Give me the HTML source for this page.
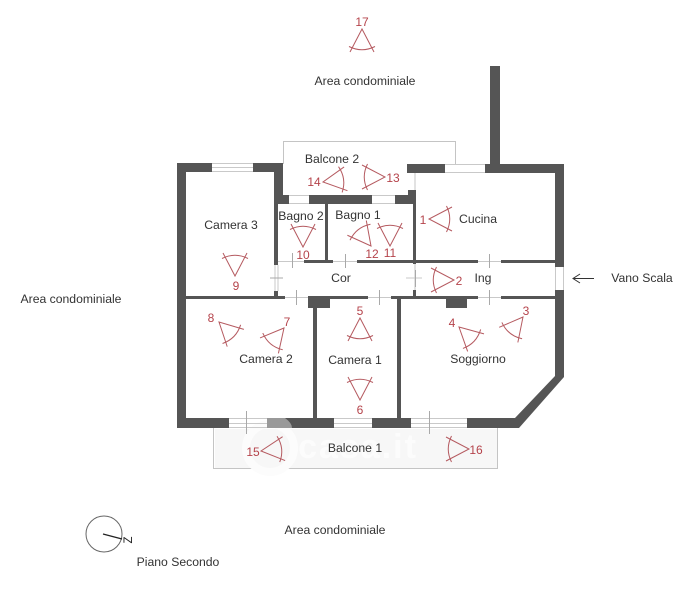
<!DOCTYPE html>
<html><head><meta charset="utf-8"><style>
html,body{margin:0;padding:0;background:#fff}
svg{display:block}
text{font-family:"Liberation Sans",sans-serif}
.l{font-size:12.2px;fill:#333;text-anchor:middle}
.n{font-size:12px;fill:#b5434b;text-anchor:middle}
</style></head><body>
<svg width="697" height="600" viewBox="0 0 697 600" xmlns="http://www.w3.org/2000/svg">
<defs>
<g id="c" fill="none" stroke="#b55a60" stroke-width="1">
<path d="M-12 23L0 0L12 23"/>
<path d="M-13 17.500Q0 24 13 17.500"/>
</g>
<linearGradient id="f" x1="0" y1="0" x2="0" y2="1">
<stop offset="0" stop-color="#f5f5f5"/><stop offset=".75" stop-color="#f7f7f7"/><stop offset="1" stop-color="#fff"/>
</linearGradient>
<linearGradient id="g" x1="0" y1="0" x2="1" y2="0">
<stop offset="0" stop-color="#f5f5f5" stop-opacity="0"/><stop offset=".12" stop-color="#f5f5f5"/><stop offset=".75" stop-color="#f5f5f5"/><stop offset="1" stop-color="#f5f5f5" stop-opacity="0"/>
</linearGradient>
</defs>
<rect width="697" height="600" fill="#fff"/>
<!-- balcony shading -->
<rect x="215" y="429" width="282" height="39" fill="#f7f7f7"/>
<!-- balcony outlines -->
<g fill="none" stroke="#c4c4c4" stroke-width="1">
<path d="M283.500 164V141.500H455.500V164"/>
<path d="M213.500 428V468.500H497.500V428"/>
<path d="M415 173V205M415 264V296"/>
</g>
<text x="358" y="458" font-size="34" font-weight="bold" fill="#fcfcfc" text-anchor="middle" style="letter-spacing:2px">casa.it</text>
<circle cx="270" cy="448" r="24" fill="none" stroke="#fcfcfc" stroke-width="8"/>
<!-- walls -->
<g fill="#555">
<rect x="177" y="163" width="9" height="265"/>
<rect x="177" y="163" width="35" height="9"/>
<rect x="253" y="163" width="30" height="9"/>
<rect x="274" y="163" width="9" height="33"/>
<rect x="278" y="195" width="11" height="9"/>
<rect x="274" y="195" width="4" height="70"/>
<rect x="309" y="195" width="63" height="9"/>
<rect x="395" y="195" width="21" height="9"/>
<rect x="408" y="190" width="8" height="14"/>
<rect x="325" y="204" width="3" height="58"/>
<rect x="413" y="204" width="3" height="60"/>
<rect x="407" y="164" width="38" height="9"/>
<rect x="485" y="164" width="79" height="9"/>
<rect x="490" y="66" width="10" height="100"/>
<rect x="555" y="164" width="9" height="103"/>
<rect x="304" y="260" width="29" height="3"/>
<rect x="357" y="260" width="121" height="3"/>
<rect x="501" y="260" width="54" height="3"/>
<rect x="186" y="296" width="99" height="3"/>
<rect x="308" y="296" width="60" height="3"/>
<rect x="391" y="296" width="87" height="3"/>
<rect x="501" y="296" width="54" height="3"/>
<rect x="274" y="291" width="4" height="6"/>
<rect x="413" y="290" width="3" height="7"/>
<rect x="308" y="297" width="22" height="11"/>
<rect x="446" y="297" width="21" height="11"/>
<rect x="313" y="297" width="4" height="122"/>
<rect x="397" y="297" width="4" height="122"/>
<path d="M555 290H564V377L519 428H467V418H515L555 376Z"/>
<rect x="177" y="418" width="52" height="10"/>
<rect x="267" y="418" width="67" height="10"/>
<rect x="372" y="418" width="39" height="10"/>
</g>
<path d="M267 418H285Q292 423 292 428H267Z" fill="#999"/>
<!-- windows and door ticks -->
<g fill="none" stroke="#c9c9c9" stroke-width="1">
<path d="M212 163.500H253M212 171.500H253M212 167.500H253"/>
<path d="M289 195.500H309M289 203.500H309"/>
<path d="M372 195.500H395M372 203.500H395"/>
<path d="M445 164.500H485M445 172.500H485"/>
<path d="M229 418.500H267M229 427.500H267M229 423.500H267"/>
<path d="M334 418.500H372M334 427.500H372M334 423.500H372"/>
<path d="M411 418.500H467M411 427.500H467M411 423.500H467"/>
<path d="M278 261.500H304M333 261.500H357M478 261.500H501"/>
<path d="M285 297.500H308M368 297.500H391M478 297.500H501"/>
<path d="M275 265V291M278 265V291"/>
<path d="M555.500 267V290M563.500 267V290"/>
<path d="M406 278H422"/>
</g>
<g stroke="#a9a9a9" stroke-width="1" fill="none">
<path d="M292.500 253V268M345.500 254V268M296.500 290V305M379.500 290V305M489.500 254V268M489.500 290V305"/>
<path d="M270 278H283M246.500 411V434M429.500 411V434M415.500 270V287"/>
</g>
<!-- cameras -->
<use href="#c" transform="translate(429,219) rotate(-90)"/>
<use href="#c" transform="translate(454,280) rotate(90)"/>
<use href="#c" transform="translate(523,317) rotate(39)"/>
<use href="#c" transform="translate(459,327) rotate(-47)"/>
<use href="#c" transform="translate(360,318)"/>
<use href="#c" transform="translate(360,400) rotate(180)"/>
<use href="#c" transform="translate(284,328) rotate(40)"/>
<use href="#c" transform="translate(219,322) rotate(-46)"/>
<use href="#c" transform="translate(235,276) rotate(180)"/>
<use href="#c" transform="translate(303,247) rotate(180)"/>
<use href="#c" transform="translate(390,246) rotate(180)"/>
<use href="#c" transform="translate(371,246) rotate(142)"/>
<use href="#c" transform="translate(385,177) rotate(90)"/>
<use href="#c" transform="translate(323,182) rotate(-98)"/>
<use href="#c" transform="translate(261,451) rotate(-96)"/>
<use href="#c" transform="translate(469,449) rotate(90)"/>
<use href="#c" transform="translate(362,29)"/>
<!-- numbers -->
<text class="n" x="362" y="26">17</text>
<text class="n" x="423" y="224">1</text>
<text class="n" x="459" y="285">2</text>
<text class="n" x="526" y="315">3</text>
<text class="n" x="452" y="327">4</text>
<text class="n" x="360" y="315">5</text>
<text class="n" x="360" y="414">6</text>
<text class="n" x="287" y="326">7</text>
<text class="n" x="211" y="322">8</text>
<text class="n" x="236" y="290">9</text>
<text class="n" x="303" y="259">10</text>
<text class="n" x="390" y="257">11</text>
<text class="n" x="372" y="258">12</text>
<text class="n" x="393" y="182">13</text>
<text class="n" x="314" y="186">14</text>
<text class="n" x="253" y="456">15</text>
<text class="n" x="476" y="454">16</text>
<!-- labels -->
<text class="l" x="365" y="85">Area condominiale</text>
<text class="l" x="71" y="303">Area condominiale</text>
<text class="l" x="335" y="534">Area condominiale</text>
<text class="l" x="332" y="163">Balcone 2</text>
<text class="l" x="231" y="229">Camera 3</text>
<text class="l" x="301" y="220">Bagno 2</text>
<text class="l" x="358" y="219">Bagno 1</text>
<text class="l" x="478" y="223">Cucina</text>
<text class="l" x="341" y="282">Cor</text>
<text class="l" x="483" y="282">Ing</text>
<text class="l" x="266" y="363">Camera 2</text>
<text class="l" x="355" y="364">Camera 1</text>
<text class="l" x="478" y="363">Soggiorno</text>
<text class="l" x="355" y="452">Balcone 1</text>
<text class="l" x="178" y="566">Piano Secondo</text>
<text class="l" x="642" y="282">Vano Scala</text>
<!-- arrow -->
<path d="M594 278.500H573M580 274L573 278.500L580 283" fill="none" stroke="#333" stroke-width="1"/>
<!-- compass -->
<circle cx="104" cy="534" r="18" fill="none" stroke="#666" stroke-width="1"/>
<path d="M103 534L122 539" stroke="#222" stroke-width="1.300"/>
<text x="0" y="0" transform="translate(132,543.500) rotate(-90)" font-size="11.500" fill="#222">Z</text>
</svg>
</body></html>
